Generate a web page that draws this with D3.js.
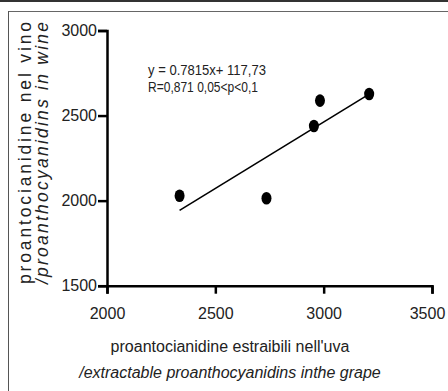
<!DOCTYPE html>
<html>
<head>
<meta charset="utf-8">
<script src="https://cdn.jsdelivr.net/npm/d3@7"></script>
<style>
  body { margin: 0; background: #fff; }
  .axis path, .axis line { stroke: #000; stroke-width: 2.5; }
  .title { font-family: "Liberation Sans", Arial, sans-serif; fill: #222; }
  .note { font-family: "Liberation Sans", Arial, sans-serif; font-size: 15.5px; fill: #222; }
</style>
</head>
<body>
<div class="chart"></div>
<script>
// grape extractable proanthocyanidins (x) vs wine proanthocyanidins (y)
var grape = [2335, 2736, 2955, 2983, 3210];
var wine = [2029, 2014, 2439, 2588, 2627];
var xTicks = [2000, 2500, 3000, 3500];
var yTicks = [1500, 2000, 2500, 3000];
var slope = 0.7815;
var intercept = 117.73;

var svgWidth = 448;
var svgHeight = 391;

var svg = d3.select(".chart")
  .append("svg")
  .attr("width", svgWidth)
  .attr("height", svgHeight);

// frame lines from the scanned page
svg.append("line")
  .attr("x1", 0).attr("x2", svgWidth).attr("y1", 1).attr("y2", 1)
  .attr("stroke", "#333").attr("stroke-width", 2);
svg.append("line")
  .attr("x1", 8).attr("x2", svgWidth).attr("y1", 11.5).attr("y2", 11.5)
  .attr("stroke", "#666").attr("stroke-width", 1.2);
svg.append("line")
  .attr("x1", 8.5).attr("x2", 8.5).attr("y1", 11).attr("y2", svgHeight)
  .attr("stroke", "#555").attr("stroke-width", 1);

var x = d3.scaleLinear().domain([2000, 3500]).range([107, 432]);
var y = d3.scaleLinear().domain([1500, 3000]).range([285.7, 30.5]);

var bottomAxis = d3.axisBottom(x).tickValues(xTicks).tickFormat(d3.format("d"))
  .tickSize(8).tickSizeOuter(8).tickPadding(14);
var leftAxis = d3.axisLeft(y).tickValues(yTicks).tickFormat(d3.format("d"))
  .tickSize(9).tickSizeOuter(9).tickPadding(1);

var gx = svg.append("g")
  .attr("class", "axis")
  .attr("transform", "translate(0," + y(1500) + ")")
  .call(bottomAxis);

var gy = svg.append("g")
  .attr("class", "axis")
  .attr("transform", "translate(" + x(2000) + ",0)")
  .call(leftAxis);

svg.selectAll(".axis text")
  .style("font-family", "'Liberation Sans', Arial, sans-serif")
  .style("font-size", "16px")
  .attr("fill", "#222");

// last label sits a little inside the page edge
gx.selectAll(".tick text")
  .filter(function(d) { return d === 3500; })
  .attr("dx", -5);

// regression line
svg.append("line")
  .attr("x1", x(d3.min(grape)))
  .attr("y1", y(slope * d3.min(grape) + intercept))
  .attr("x2", x(d3.max(grape)))
  .attr("y2", y(slope * d3.max(grape) + intercept))
  .attr("stroke", "#000")
  .attr("stroke-width", 1.6);

svg.selectAll("ellipse")
  .data(grape)
  .enter().append("ellipse")
    .attr("cx", function(d) { return x(d); })
    .attr("cy", function(d, i) { return y(wine[i]); })
    .attr("rx", 5)
    .attr("ry", 6.3)
    .attr("fill", "#000");

svg.append("text").attr("class", "note")
  .attr("x", 148).attr("y", 75)
  .attr("textLength", 118)
  .attr("lengthAdjust", "spacingAndGlyphs")
  .text("y = 0.7815x+ 117,73");
svg.append("text").attr("class", "note")
  .attr("x", 148).attr("y", 91.5)
  .attr("textLength", 110)
  .attr("lengthAdjust", "spacingAndGlyphs")
  .text("R=0,871 0,05<p<0,1");

// x axis title
svg.append("text").attr("class", "title")
  .attr("x", 230).attr("y", 352)
  .attr("text-anchor", "middle")
  .style("font-size", "16px")
  .text("proantocianidine estraibili nell'uva");
svg.append("text").attr("class", "title")
  .attr("x", 230).attr("y", 378)
  .attr("text-anchor", "middle")
  .style("font-size", "16px")
  .style("font-style", "italic")
  .text("/extractable proanthocyanidins inthe grape");

// y axis title
svg.append("text").attr("class", "title")
  .attr("transform", "translate(31,153) rotate(-90)")
  .attr("text-anchor", "middle")
  .attr("textLength", 262)
  .attr("lengthAdjust", "spacing")
  .style("font-size", "17.5px")
  .text("proantocianidine nel vino");
svg.append("text").attr("class", "title")
  .attr("transform", "translate(48,153) rotate(-90)")
  .attr("text-anchor", "middle")
  .attr("textLength", 262)
  .attr("lengthAdjust", "spacing")
  .style("font-size", "17.5px")
  .style("font-style", "italic")
  .text("/proanthocyanidins in wine");
</script>
</body>
</html>
